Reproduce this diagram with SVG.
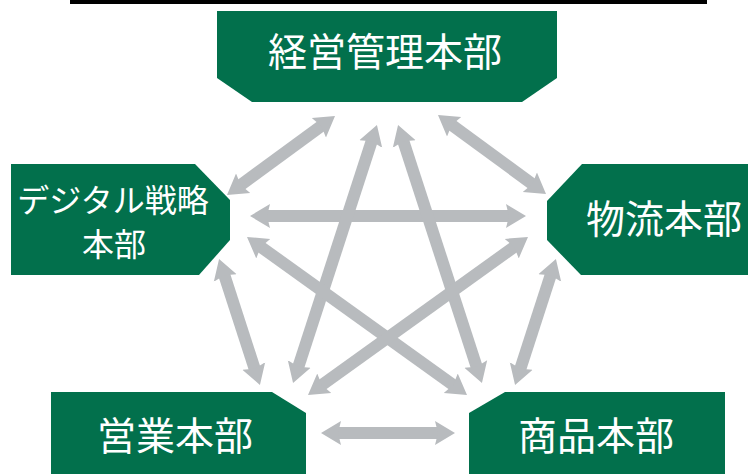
<svg xmlns="http://www.w3.org/2000/svg" width="748" height="474" viewBox="0 0 748 474">
<style>
.node{fill:#02704c}
.lbl{fill:#ffffff;font-family:"Noto Sans CJK JP","Noto Sans CJK SC",sans-serif;text-anchor:middle}
.big{font-size:39px}
.small{font-size:32px}
.shaft{stroke:#b8bbbe;stroke-width:12;fill:none;marker-start:url(#ah);marker-end:url(#ah)}
</style>
<defs>
<marker id="ah" markerUnits="userSpaceOnUse" viewBox="0 -13 22 26" markerWidth="22" markerHeight="26" refX="4" refY="0" orient="auto-start-reverse">
<path d="M0,-12 L20,0 L0,12 L3,0 Z" fill="#b8bbbe"/>
</marker>
</defs>
<rect x="70" y="0" width="637" height="4" fill="#000000"/>
<g id="connectors">
<line class="shaft" x1="322.1" y1="125.4" x2="239.9" y2="185.6"/>
<line class="shaft" x1="450.9" y1="124.4" x2="533.1" y2="184.6"/>
<line class="shaft" x1="266" y1="216" x2="510" y2="216"/>
<line class="shaft" x1="372" y1="140.2" x2="298" y2="367.8"/>
<line class="shaft" x1="403" y1="140.2" x2="477" y2="367.8"/>
<line class="shaft" x1="260" y1="246.3" x2="454" y2="385.7"/>
<line class="shaft" x1="515" y1="246.3" x2="321" y2="385.7"/>
<line class="shaft" x1="224" y1="274.2" x2="255" y2="369.8"/>
<line class="shaft" x1="551" y1="274.2" x2="520" y2="369.8"/>
<line class="shaft" x1="337" y1="433" x2="439" y2="433"/>
</g>
<g id="node-keiei">
<polygon class="node" points="217,11 557,11 557,78 522,102 252,102 217,78"/>
<text class="lbl big" x="385" y="66">経営管理本部</text>
</g>
<g id="node-digital">
<polygon class="node" points="11,164 195,164 230,200 230,240 199,275 11,275"/>
<text class="lbl small" x="113" y="212">デジタル戦略</text>
<text class="lbl small" x="114" y="256">本部</text>
</g>
<g id="node-butsuryu">
<polygon class="node" points="582,164 748,164 748,275 581,275 547,240 547,201"/>
<text class="lbl big" x="664" y="233">物流本部</text>
</g>
<g id="node-eigyo">
<polygon class="node" points="51,392 272,392 306,413 306,474 51,474"/>
<text class="lbl big" x="175" y="450">営業本部</text>
</g>
<g id="node-shohin">
<polygon class="node" points="505,392 725,392 725,474 469,474 469,413"/>
<text class="lbl big" x="596" y="450">商品本部</text>
</g>
</svg>
